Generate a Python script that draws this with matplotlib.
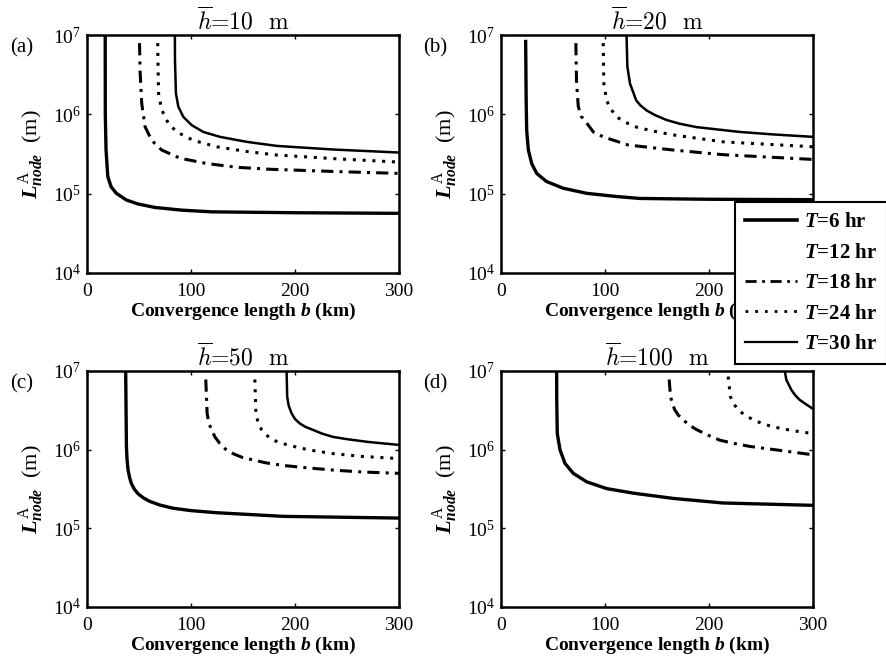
import matplotlib.pyplot as plt
from matplotlib.lines import Line2D
import numpy as np

plt.rcParams['font.family'] = ['Liberation Serif', 'DejaVu Serif']
plt.rcParams['mathtext.fontset'] = 'custom'
plt.rcParams['mathtext.rm'] = 'Liberation Serif'
plt.rcParams['mathtext.it'] = 'Liberation Serif:italic:bold'
plt.rcParams['mathtext.bf'] = 'Liberation Serif:bold'

# data: b (km), L (m)
titles = [r'$\overline{h}$=10  m', r'$\overline{h}$=20  m', r'$\overline{h}$=50  m', r'$\overline{h}$=100  m']
letters = ['(a)', '(b)', '(c)', '(d)']
series_names = [r'$T$=6 hr', r'$T$=12 hr', r'$T$=18 hr', r'$T$=24 hr', r'$T$=30 hr']

# panel (a) h=10 m
a_t6_b = [17.5, 17.6, 18.3, 20.0, 23.2, 28.2, 38.0, 49.3, 65.4, 91, 120, 200, 300]
a_t6_L = [1e7, 1e6, 3.55e5, 1.64e5, 1.22e5, 1.01e5, 8.3e4, 7.4e4, 6.7e4, 6.2e4, 5.9e4, 5.75e4, 5.65e4]
a_t18_b = [50.5, 51.0, 52.6, 55.8, 62.2, 71.8, 89.4, 115, 144, 176, 240, 300]
a_t18_L = [7.9e6, 3.6e6, 1.38e6, 7.0e5, 4.7e5, 3.55e5, 2.8e5, 2.4e5, 2.15e5, 2.03e5, 1.9e5, 1.8e5]
a_t24_b = [68.0, 68.2, 68.8, 71.8, 78.2, 86.3, 102.2, 124.7, 153.6, 182.4, 240, 300]
a_t24_L = [7.9e6, 4.8e6, 1.84e6, 1.14e6, 7.7e5, 6.0e5, 4.7e5, 3.9e5, 3.4e5, 3.07e5, 2.75e5, 2.5e5]
a_t30_b = [84.5, 84.6, 85.5, 87.8, 92.6, 100.7, 111.8, 127.9, 153.6, 182.4, 237, 300]
a_t30_L = [1e7, 4.8e6, 1.84e6, 1.25e6, 9.3e5, 7.3e5, 6.0e5, 5.2e5, 4.5e5, 4.0e5, 3.6e5, 3.3e5]

# panel (b) h=20 m
b_t6_b = [23.7, 24.2, 24.7, 26.3, 29.5, 34.3, 43.9, 59.9, 82.4, 111.3, 133.7, 200, 300]
b_t6_L = [8.7e6, 1.5e6, 6.3e5, 3.55e5, 2.4e5, 1.8e5, 1.42e5, 1.17e5, 1.01e5, 9.2e4, 8.7e4, 8.5e4, 8.4e4]
b_t18_b = [72.0, 72.3, 72.7, 74.3, 77.0, 82.3, 88.8, 98.3, 122.4, 165.5, 213.5, 300]
b_t18_L = [7.9e6, 4e6, 2.45e6, 1.26e6, 9.5e5, 7.8e5, 6.0e5, 5.2e5, 4.1e5, 3.55e5, 3.1e5, 2.7e5]
b_t24_b = [98.3, 98.6, 98.9, 101.5, 105, 111, 120, 130.3, 145, 165.5, 213.5, 300]
b_t24_L = [7.9e6, 4e6, 2.45e6, 1.5e6, 1.2e6, 9.3e5, 7.9e5, 6.9e5, 6.2e5, 5.5e5, 4.5e5, 3.9e5]
b_t30_b = [120.7, 121.5, 124, 130, 134, 140, 148, 159, 172, 188, 229.5, 260, 300]
b_t30_L = [1e7, 4e6, 2.45e6, 1.5e6, 1.3e6, 1.12e6, 9.8e5, 8.5e5, 7.6e5, 6.9e5, 6.0e5, 5.6e5, 5.2e5]

# panel (c) h=50 m
c_t6_b = [37.2, 37.9, 38.5, 39.5, 41.0, 42.7, 45.5, 49.1, 54.0, 60.3, 70, 82.8, 100, 124.5, 188.7, 300]
c_t6_L = [1e7, 1.1e6, 7.5e5, 5.5e5, 4.4e5, 3.7e5, 3.15e5, 2.75e5, 2.45e5, 2.2e5, 1.98e5, 1.8e5,
          1.68e5, 1.58e5, 1.42e5, 1.35e5]
c_t18_b = [114.2, 115.5, 117, 119.7, 123, 127.7, 133, 140.5, 149, 159.8, 172, 188.7, 210, 236.8, 265, 300]
c_t18_L = [7.8e6, 2.9e6, 2.2e6, 1.8e6, 1.45e6, 1.2e6, 1.02e6, 8.9e5, 8.0e5, 7.4e5, 6.8e5, 6.3e5,
           5.9e5, 5.5e5, 5.2e5, 5.0e5]
c_t24_b = [161.4, 162.4, 164.5, 167.8, 172, 179, 190, 204.7, 220, 236.8, 265, 300]
c_t24_L = [7.8e6, 2.9e6, 2.2e6, 1.8e6, 1.55e6, 1.32e6, 1.18e6, 1.05e6, 9.6e5, 8.9e5, 8.2e5, 7.7e5]
c_t30_b = [191.9, 192.5, 194, 196.7, 200, 204.7, 210, 217.5, 226, 236.8, 250, 268.9, 285, 300]
c_t30_L = [1e7, 4.7e6, 3.6e6, 2.9e6, 2.45e6, 2.15e6, 1.95e6, 1.78e6, 1.6e6, 1.45e6, 1.36e6,
           1.26e6, 1.2e6, 1.15e6]

# panel (d) h=100 m
d_t6_b = [53.5, 53.6, 54.1, 56.7, 61.5, 69.5, 82.4, 101.6, 127.2, 165.7, 213.5, 300]
d_t6_L = [1e7, 4.3e6, 1.61e6, 1.0e6, 6.7e5, 5.0e5, 3.9e5, 3.2e5, 2.8e5, 2.4e5, 2.1e5, 1.96e5]
d_t18_b = [161.7, 163, 165, 167.1, 170.5, 175.1, 181, 188, 198, 210.4, 224, 239.2, 268, 300]
d_t18_L = [7.8e6, 4.7e6, 3.8e6, 3.2e6, 2.75e6, 2.4e6, 2.05e6, 1.8e6, 1.55e6, 1.32e6, 1.2e6,
           1.1e6, 9.8e5, 8.6e5]
d_t24_b = [218.4, 220.6, 224, 228, 234.5, 242.4, 251, 261.6, 280, 300]
d_t24_L = [8.5e6, 4.7e6, 3.8e6, 3.2e6, 2.75e6, 2.4e6, 2.15e6, 1.95e6, 1.75e6, 1.6e6]
d_t30_b = [272.8, 274.4, 279.2, 283, 287.2, 293, 300]
d_t30_L = [1e7, 7.7e6, 5.75e6, 4.9e6, 4.3e6, 3.8e6, 3.3e6]

panels = [
    [(a_t6_b, a_t6_L), (a_t18_b, a_t18_L), (a_t24_b, a_t24_L), (a_t30_b, a_t30_L)],
    [(b_t6_b, b_t6_L), (b_t18_b, b_t18_L), (b_t24_b, b_t24_L), (b_t30_b, b_t30_L)],
    [(c_t6_b, c_t6_L), (c_t18_b, c_t18_L), (c_t24_b, c_t24_L), (c_t30_b, c_t30_L)],
    [(d_t6_b, d_t6_L), (d_t18_b, d_t18_L), (d_t24_b, d_t24_L), (d_t30_b, d_t30_L)],
]
styles = [dict(ls='-', lw=2.4), dict(ls=(0, (4, 2, 1, 2)), lw=2.2),
          dict(ls=(0, (1, 2.2)), lw=2.2), dict(ls='-', lw=1.8)]

fig = plt.figure(figsize=(8.87, 6.66), dpi=100)
W, H = 887, 666
boxes = [(87, 35, 399, 273), (501, 35, 813, 273), (87, 371, 399, 607), (501, 371, 813, 607)]

for k in range(4):
    x0, y0, x1, y1 = boxes[k]
    ax = fig.add_axes([x0 / W, 1 - y1 / H, (x1 - x0) / W, (y1 - y0) / H])
    for (bb, LL), st in zip(panels[k], styles):
        ax.plot(bb, LL, color='k', solid_capstyle='butt', solid_joinstyle='round',
                dash_capstyle='butt', **st)
    ax.set_yscale('log')
    ax.set_xlim(0, 300)
    ax.set_ylim(1e4, 1e7)
    ax.set_xticks([0, 100, 200, 300])
    ax.set_yticks([1e4, 1e5, 1e6, 1e7])
    ax.minorticks_off()
    ax.tick_params(direction='in', length=3, width=1, top=True, right=True,
                   labelsize=14)
    ax.tick_params(axis='x', pad=7)
    ax.tick_params(axis='y', pad=4)
    for sp in ax.spines.values():
        sp.set_linewidth(1.8)
    ax.set_title(titles[k], fontsize=17, pad=4, fontfamily='cmr10', math_fontfamily='cm')
    ax.set_xlabel(r'Convergence length $b$ (km)', fontsize=14, fontweight='bold', labelpad=1)
    ax.set_ylabel(r'$L^{\mathrm{A}}_{node}$  (m)', fontsize=16, labelpad=5)
    ax.text(-0.21, 0.945, letters[k], transform=ax.transAxes, fontsize=15,
            ha='center', va='center')

handles = [Line2D([], [], color='k', ls='-', lw=2.6),
           Line2D([], [], color='none'),
           Line2D([], [], color='k', ls=(0, (4, 2, 1, 2)), lw=2.0),
           Line2D([], [], color='k', ls=(0, (1, 2.5)), lw=2.0),
           Line2D([], [], color='k', ls='-', lw=1.6)]
leg = fig.legend(handles, series_names,
                 loc='upper left', bbox_to_anchor=(735 / W, 1 - 202 / H), borderaxespad=0,
                 fancybox=False, framealpha=1, edgecolor='k', handlelength=2.5,
                 handletextpad=0.3, labelspacing=0.5, borderpad=0.5,
                 prop=dict(size=15, weight='bold'))
leg.get_frame().set_linewidth(1.5)
leg.set_zorder(10)

fig.savefig('out.png', dpi=100)
